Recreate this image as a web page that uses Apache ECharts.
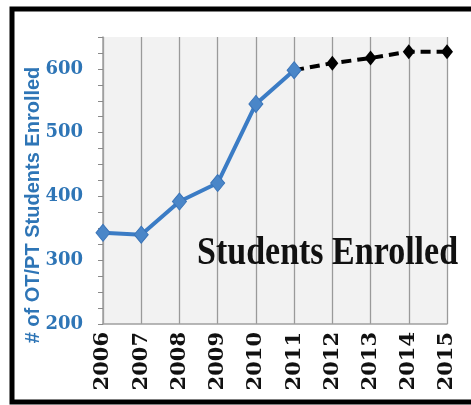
<!DOCTYPE html>
<html>
<head>
<meta charset="utf-8">
<script src="https://cdn.jsdelivr.net/npm/echarts@6/dist/echarts.min.js"></script>
<style>html,body{margin:0;padding:0;background:#fff;}#c{width:471px;height:405px;}</style>
</head>
<body>
<div id="c"></div>
<script>
var years = ['2006','2007','2008','2009','2010','2011','2012','2013','2014','2015'];
var actual = [343, 340, 392, 421, 545, 598, null, null, null, null];
var projected = [null, null, null, null, null, 598, 609, 617, 627, 627];
var yTitle = '# of OT/PT Students Enrolled';
var chartLabel = 'Students Enrolled';

var blue = '#3b7cc5';
var chart = echarts.init(document.getElementById('c'));
chart.setOption({
  animation: false,
  backgroundColor: '#ffffff',
  grid: { left: 103, top: 37, right: 24, bottom: 81, show: true, backgroundColor: '#f2f2f2', borderWidth: 0 },
  xAxis: {
    type: 'category',
    data: years,
    boundaryGap: false,
    axisLine: { show: true, lineStyle: { color: '#a0a0a0', width: 1.5 } },
    axisTick: { show: false },
    splitLine: { show: true, lineStyle: { color: '#9a9a9a', width: 1.3 } },
    axisLabel: { rotate: 90, margin: 8, color: '#111', fontFamily: 'DejaVu Serif', fontWeight: 'bold', fontSize: 21, interval: 0 }
  },
  yAxis: {
    type: 'value',
    min: 200, max: 650, interval: 25,
    axisLine: { show: true, lineStyle: { color: '#a0a0a0', width: 1.5 } },
    axisTick: { show: true, length: 5, lineStyle: { color: '#8a8a8a' } },
    splitLine: { show: false },
    axisLabel: {
      margin: 20, color: '#2e75b6', fontFamily: 'DejaVu Serif', fontWeight: 'bold', fontSize: 18,
      formatter: function (v) { return v % 100 === 0 ? String(v) : ''; }
    }
  },
  series: [
    {
      type: 'line', data: projected.map(function (v, i) { return (i === 5) ? { value: v, symbol: 'none' } : v; }),
      lineStyle: { color: '#000', width: 4, type: [10, 6] },
      itemStyle: { color: '#000' },
      symbol: 'diamond', symbolSize: [12, 15], showSymbol: true, z: 2
    },
    {
      type: 'line', data: actual,
      lineStyle: { color: blue, width: 4 },
      itemStyle: { color: '#4a86c8', borderColor: '#3a74b8', borderWidth: 1 },
      symbol: 'diamond', symbolSize: [14, 17], showSymbol: true, z: 3
    }
  ],
  graphic: [
    {
      type: 'text', x: 197, y: 253, scaleY: 1.2, z: 10,
      style: { text: chartLabel, fill: '#111', font: 'bold 34px "Liberation Serif"', textAlign: 'left', textVerticalAlign: 'middle' }
    },
    {
      type: 'text', x: 33, y: 205, rotation: Math.PI / 2, z: 10,
      style: { text: yTitle, fill: '#2e75b6', font: 'bold 20px "Liberation Sans"', textAlign: 'center', textVerticalAlign: 'middle' }
    },
    {
      type: 'rect', z: 100,
      shape: { x: 12, y: 9, width: 500, height: 393 },
      style: { fill: 'none', stroke: '#000', lineWidth: 5 }
    }
  ]
});
</script>
</body>
</html>
